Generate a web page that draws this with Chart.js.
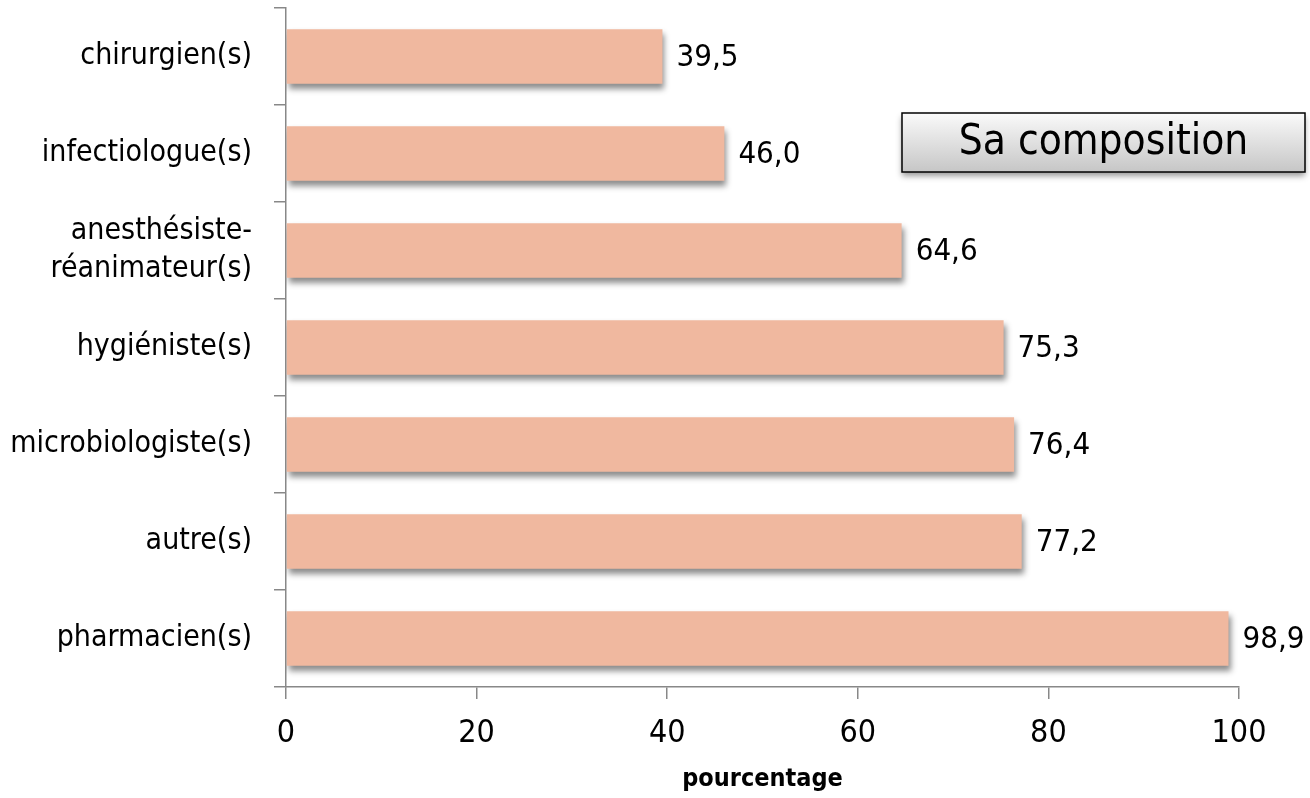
<!DOCTYPE html>
<html>
<head>
<meta charset="utf-8">
<script src="https://cdn.jsdelivr.net/npm/chart.js@4"></script>
<style>
  body { margin: 0; background: #fff; }
  #wrap { width: 1310px; height: 798px; }
</style>
</head>
<body>
<div id="wrap"><canvas id="chart" width="1310" height="798"></canvas></div>
<script>
const categories = ['chirurgien(s)', 'infectiologue(s)', ['anesthésiste-', 'réanimateur(s)'], 'hygiéniste(s)', 'microbiologiste(s)', 'autre(s)', 'pharmacien(s)'];
const values = [39.5, 46.0, 64.6, 75.3, 76.4, 77.2, 98.9];
const xTicks = [0, 20, 40, 60, 80, 100];
const boxTitle = 'Sa composition';
const axisTitle = 'pourcentage';

const FONT = "'Liberation Sans Narrow', 'DejaVu Sans Condensed', 'Roboto', sans-serif";

// ombre sous les barres
const barShadow = {
    id: 'barShadow',
    beforeDatasetDraw(chart) {
        const ctx = chart.ctx;
        ctx.save();
        ctx.shadowColor = 'rgba(0,0,0,0.45)';
        ctx.shadowBlur = 6;
        ctx.shadowOffsetX = 2;
        ctx.shadowOffsetY = 5;
    },
    afterDatasetDraw(chart) {
        chart.ctx.restore();
    }
};

// valeurs au bout des barres
const valueLabels = {
    id: 'valueLabels',
    afterDatasetsDraw(chart) {
        const ctx = chart.ctx;
        const meta = chart.getDatasetMeta(0);
        ctx.save();
        ctx.font = '31px ' + FONT;
        ctx.fillStyle = '#000';
        ctx.textAlign = 'left';
        ctx.textBaseline = 'middle';
        meta.data.forEach((bar, i) => {
            ctx.fillText(values[i].toFixed(1).replace('.', ','), bar.x + 14, bar.y + 1);
        });
        ctx.restore();
    }
};

// encadré "Sa composition"
const titleBox = {
    id: 'titleBox',
    afterDraw(chart) {
        const ctx = chart.ctx;
        const x = 902, y = 113, w = 403, h = 59;
        ctx.save();
        ctx.shadowColor = 'rgba(0,0,0,0.4)';
        ctx.shadowBlur = 6;
        ctx.shadowOffsetY = 4;
        const g = ctx.createLinearGradient(0, y, 0, y + h);
        g.addColorStop(0, '#fafafa');
        g.addColorStop(1, '#c6c6c6');
        ctx.fillStyle = g;
        ctx.fillRect(x, y, w, h);
        ctx.shadowColor = 'transparent';
        ctx.strokeStyle = '#000';
        ctx.lineWidth = 1.5;
        ctx.strokeRect(x, y, w, h);
        ctx.fillStyle = '#000';
        ctx.font = '42px ' + FONT;
        ctx.textAlign = 'center';
        ctx.textBaseline = 'middle';
        ctx.fillText(boxTitle, x + w / 2, y + h / 2 + 1);
        ctx.restore();
    }
};

new Chart(document.getElementById('chart'), {
    type: 'bar',
    data: {
        labels: categories,
        datasets: [{
            data: values,
            backgroundColor: '#f0b89f',
            borderWidth: 0,
            barPercentage: 0.56,
            categoryPercentage: 1.0
        }]
    },
    options: {
        indexAxis: 'y',
        responsive: false,
        animation: false,
        layout: { padding: { top: 8, right: 71, left: 0, bottom: 0 } },
        plugins: { legend: { display: false }, tooltip: { enabled: false } },
        scales: {
            x: {
                min: 0,
                max: 100,
                afterBuildTicks(scale) { scale.ticks = xTicks.map(v => ({ value: v })); },
                afterFit(scale) { scale.height = 111; },
                border: { display: true, color: '#888', width: 1.5 },
                grid: { display: true, drawOnChartArea: false, tickLength: 12, color: '#888', lineWidth: 1.5 },
                ticks: { color: '#000', font: { family: FONT, size: 32 }, padding: 15, maxRotation: 0 },
                title: { display: true, text: axisTitle, color: '#000', font: { family: FONT, size: 25, weight: 'bold' }, padding: { top: 2 } }
            },
            y: {
                afterFit(scale) {
                    scale.width = 286;
                    scale.paddingTop = 0;
                    scale.paddingBottom = 0;
                },
                border: { display: true, color: '#888', width: 1.5 },
                grid: { display: true, offset: true, drawOnChartArea: false, tickLength: 12, color: '#888', lineWidth: 1.5 },
                ticks: { color: '#000', font: { family: FONT, size: 30, lineHeight: 1.27 }, padding: 22 }
            }
        }
    },
    plugins: [barShadow, valueLabels, titleBox]
});
</script>
</body>
</html>
